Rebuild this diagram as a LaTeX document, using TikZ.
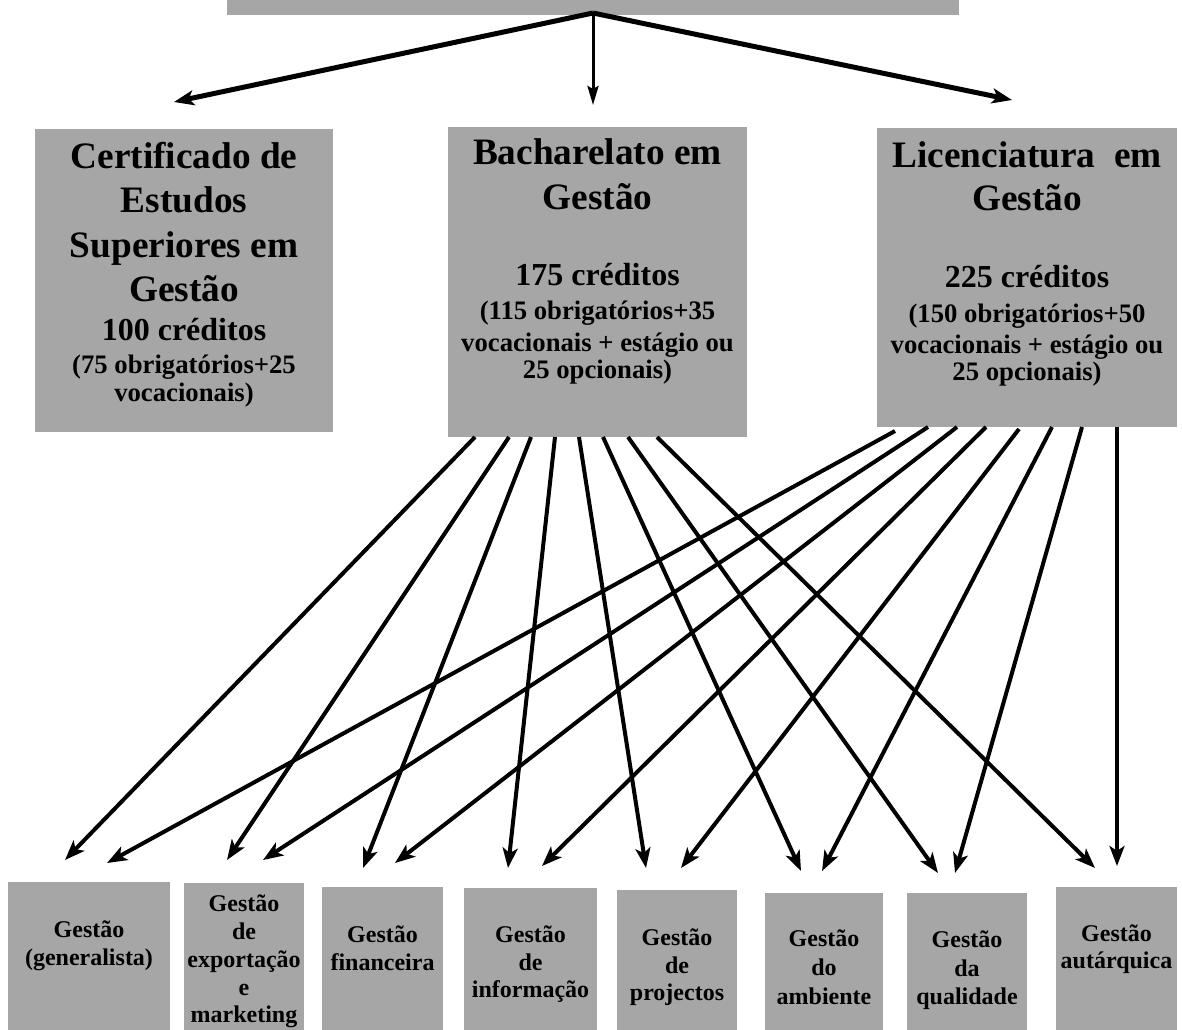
\documentclass[tikz,border=0pt]{standalone}
\usepackage{fontspec}
\setmainfont{Liberation Serif}
\usetikzlibrary{arrows.meta}
\definecolor{boxgray}{RGB}{166,166,166}
\tikzset{
  box/.style={fill=boxgray, draw=none, inner sep=0pt, anchor=north west},
  tbig/.style={anchor=base, inner sep=0pt, font=\bfseries\fontsize{37.3}{43}\selectfont},
  tmid/.style={anchor=base, inner sep=0pt, font=\bfseries\fontsize{32}{37}\selectfont},
  tsml/.style={anchor=base, inner sep=0pt, font=\bfseries\fontsize{26.7}{30}\selectfont},
  tbot/.style={anchor=base, inner sep=0pt, font=\bfseries\fontsize{24}{28}\selectfont},
  arr/.style={line width=4pt, -{Stealth[length=20pt,width=15pt,inset=5pt]}},
  toparr/.style={line width=5pt, -{Stealth[length=20pt,width=15pt,inset=5pt]}},
  thinarr/.style={line width=3pt, -{Stealth[length=19pt,width=11pt,inset=3pt]}}
}
\begin{document}
\begin{tikzpicture}[x=1pt,y=-1pt]
\useasboundingbox (0,0) rectangle (1182,1029);

% top box (cut off)
\node[box, minimum width=732pt, minimum height=25pt] (top) at (227,-10) {};
\coordinate (tc) at (593,13);

% middle boxes
\node[box, minimum width=298pt, minimum height=303pt] (cert) at (35,129) {};
\node[box, minimum width=299pt, minimum height=310pt] (bach) at (448,127) {};
\node[box, minimum width=300pt, minimum height=299pt] (lic) at (877,128) {};

% texts in certificate box
\foreach \t/\y [count=\i] in {Certificado de/168, Estudos/212, Superiores em/257, Gestão/301}
  \node[tbig] (ct\i) at (184,\y) {\t};
\node[tmid] (ccr) at (184,340) {100 créditos};
\node[tsml] (cd1) at (184,373) {(75 obrigatórios+25};
\node[tsml] (cd2) at (184,401) {vocacionais)};

% texts in bachelor box
\node[tbig] (bt1) at (597.5,164) {Bacharelato em};
\node[tbig] (bt2) at (597.5,209) {Gestão};
\node[tmid] (bcr) at (597.5,285) {175 créditos};
\node[tsml] (bd1) at (597.5,319) {(115 obrigatórios+35};
\node[tsml] (bd2) at (597.5,351) {vocacionais + estágio ou};
\node[tsml] (bd3) at (597.5,378) {25 opcionais)};

% texts in licence box
\node[tbig] (lt1) at (1027,167) {Licenciatura~~em};
\node[tbig] (lt2) at (1027,210) {Gestão};
\node[tmid] (lcr) at (1027,287) {225 créditos};
\node[tsml] (ld1) at (1027,322) {(150 obrigatórios+50};
\node[tsml] (ld2) at (1027,353) {vocacionais + estágio ou};
\node[tsml] (ld3) at (1027,380) {25 opcionais)};

% bottom boxes
\node[box, minimum width=162pt, minimum height=160pt] (g1) at (8,882) {};
\node[box, minimum width=120pt, minimum height=160pt] (g2) at (184,883) {};
\node[box, minimum width=121pt, minimum height=160pt] (g3) at (322,887) {};
\node[box, minimum width=133pt, minimum height=160pt] (g4) at (464,888) {};
\node[box, minimum width=120pt, minimum height=160pt] (g5) at (617,890) {};
\node[box, minimum width=118pt, minimum height=160pt] (g6) at (765,893) {};
\node[box, minimum width=120pt, minimum height=160pt] (g7) at (907,893) {};
\node[box, minimum width=121pt, minimum height=160pt] (g8) at (1056,887) {};

\node[tbot] (g1a) at (89,937) {Gestão};
\node[tbot] (g1b) at (89,965) {(generalista)};
\foreach \t/\y [count=\i] in {Gestão/911, de/939, exportação/967, e/995, marketing/1022}
  \node[tbot] (g2t\i) at (244,\y) {\t};
\node[tbot] (g3a) at (382.5,942) {Gestão};
\node[tbot] (g3b) at (382.5,970) {financeira};
\foreach \t/\y [count=\i] in {Gestão/942, de/970, informação/997}
  \node[tbot] (g4t\i) at (530.5,\y) {\t};
\foreach \t/\y [count=\i] in {Gestão/945, de/973, projectos/1000}
  \node[tbot] (g5t\i) at (677,\y) {\t};
\foreach \t/\y [count=\i] in {Gestão/946, do/975, ambiente/1004}
  \node[tbot] (g6t\i) at (824,\y) {\t};
\foreach \t/\y [count=\i] in {Gestão/947, da/976, qualidade/1004}
  \node[tbot] (g7t\i) at (967,\y) {\t};
\node[tbot] (g8a) at (1116.5,941) {Gestão};
\node[tbot] (g8b) at (1116.5,968) {autárquica};

% top arrows
\coordinate (ptl) at (174,102);
\coordinate (ptm) at (593,105);
\coordinate (ptr) at (1012,100);
\draw[toparr] (tc) -- (ptl);
\draw[thinarr] (tc) -- (ptm);
\draw[toparr] (tc) -- (ptr);

% starts on bachelor box
\coordinate (b1) at (475,437);
\coordinate (b2) at (509,437);
\coordinate (b3) at (531,437);
\coordinate (b4) at (555,437);
\coordinate (b5) at (579,437);
\coordinate (b6) at (603,437);
\coordinate (b7) at (628,437);
\coordinate (b8) at (657,437);
% starts on licence box
\coordinate (l1) at (895,431);
\coordinate (l2) at (928,427);
\coordinate (l3) at (957,427);
\coordinate (l4) at (986,427);
\coordinate (l5) at (1019,429);
\coordinate (l6) at (1052,427);
\coordinate (l7) at (1082,427);
\coordinate (l8) at (1117,427);
% arrow tips
\coordinate (e1b) at (65,860);   \coordinate (e1l) at (107,863);
\coordinate (e2b) at (227,860);  \coordinate (e2l) at (263,860);
\coordinate (e3b) at (363,868);  \coordinate (e3l) at (395,863);
\coordinate (e4b) at (508,868);  \coordinate (e4l) at (542,866);
\coordinate (e5b) at (646,868);  \coordinate (e5l) at (681,868);
\coordinate (e6b) at (801,871);  \coordinate (e6l) at (822,871);
\coordinate (e7b) at (938,873);  \coordinate (e7l) at (955,873);
\coordinate (e8b) at (1095,868); \coordinate (e8l) at (1117,866);

\foreach \i in {1,...,8} {
  \draw[arr] (b\i) -- (e\i b);
  \draw[arr] (l\i) -- (e\i l);
}
\end{tikzpicture}
\end{document}
